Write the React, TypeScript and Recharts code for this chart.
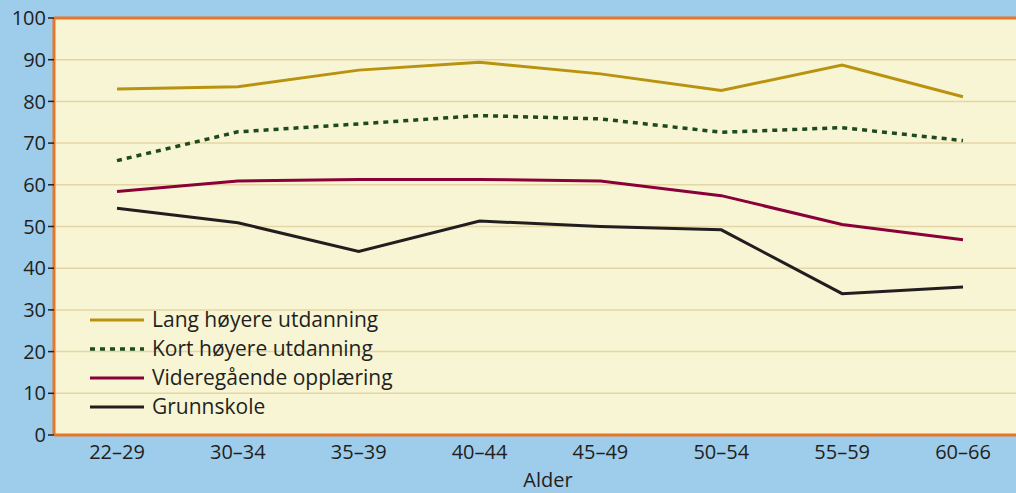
import { LineChart, Line, XAxis, YAxis, CartesianGrid, ReferenceLine } from 'recharts';

const ageGroups = ['22–29', '30–34', '35–39', '40–44', '45–49', '50–54', '55–59', '60–66'];
const langHoyere = [83.0, 83.5, 87.5, 89.4, 86.6, 82.6, 88.7, 81.1];
const kortHoyere = [65.8, 72.7, 74.6, 76.6, 75.8, 72.6, 73.7, 70.6];
const videregaende = [58.4, 60.9, 61.3, 61.3, 60.9, 57.4, 50.5, 46.8];
const grunnskole = [54.4, 50.9, 44.0, 51.3, 50.0, 49.2, 33.9, 35.5];
const yTicks = [0, 10, 20, 30, 40, 50, 60, 70, 80, 90, 100];

const series = [
  { key: 'lang', name: 'Lang høyere utdanning', color: '#b9920f', dash: undefined, width: 3 },
  { key: 'kort', name: 'Kort høyere utdanning', color: '#1e4a1e', dash: '5 5', width: 3.5 },
  { key: 'vgs', name: 'Videregående opplæring', color: '#8a0038', dash: undefined, width: 3 },
  { key: 'grunn', name: 'Grunnskole', color: '#221e20', dash: undefined, width: 3 },
];

const data = ageGroups.map((age, i) => ({
  age,
  lang: langHoyere[i],
  kort: kortHoyere[i],
  vgs: videregaende[i],
  grunn: grunnskole[i],
}));

const FONT = '"Open Sans", "Noto Sans", sans-serif';
const TEXT = '#231f20';
const ORANGE = '#e8762a';

// legend sits inside the plot, bottom-left, so it is drawn as an overlay
const LegendBox = () => (
  <div style={{ position: 'absolute', left: 90, top: 305, fontFamily: FONT, fontSize: 21, color: TEXT, lineHeight: '29px' }}>
    {series.map(s => (
      <div key={s.key} style={{ display: 'flex', alignItems: 'center' }}>
        <svg width={62} height={10}>
          <line x1={0} y1={5} x2={54} y2={5} stroke={s.color} strokeWidth={s.width} strokeDasharray={s.dash} />
        </svg>
        <span>{s.name}</span>
      </div>
    ))}
  </div>
);

export default function App() {
  return (
    <div style={{ position: 'absolute', left: 0, top: 0, width: 1016, height: 493, overflow: 'hidden', background: '#9dcdea' }}>
      <LineChart width={1030} height={493} data={data} margin={{ top: 18, right: 4, left: 0, bottom: 0 }}>
        <CartesianGrid horizontal vertical={false} stroke="#e6d6a6" strokeWidth={1.5} fill="#f7f5d3" fillOpacity={1} />
        <XAxis
          dataKey="age"
          height={58}
          padding={{ left: 63, right: 63 }}
          axisLine={{ stroke: ORANGE, strokeWidth: 3 }}
          tickLine={false}
          tick={{ fontSize: 20, fill: TEXT, fontFamily: FONT }}
          tickMargin={4}
          label={{ value: 'Alder', position: 'insideBottom', offset: 6, dx: 8, fontSize: 20, fill: TEXT, fontFamily: FONT }}
        />
        <YAxis
          domain={[0, 100]}
          ticks={yTicks}
          width={54}
          interval={0}
          axisLine={{ stroke: ORANGE, strokeWidth: 3 }}
          tickLine={{ stroke: TEXT, strokeWidth: 1.5 }}
          tickSize={6}
          tick={{ fontSize: 20, fill: TEXT, fontFamily: FONT }}
        />
        <ReferenceLine y={100} stroke={ORANGE} strokeWidth={3} />
        {series.map(s => (
          <Line
            key={s.key}
            dataKey={s.key}
            name={s.name}
            stroke={s.color}
            strokeWidth={s.width}
            strokeDasharray={s.dash}
            dot={false}
            activeDot={false}
            isAnimationActive={false}
          />
        ))}
      </LineChart>
      <LegendBox />
    </div>
  );
}
